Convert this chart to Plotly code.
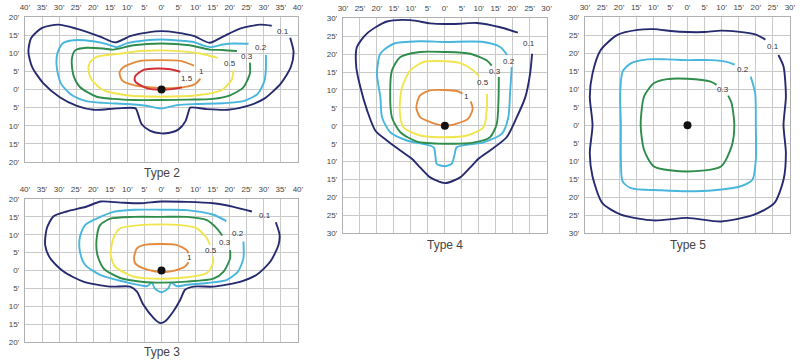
import plotly.graph_objects as go

# ---------------- tick values ----------------
TICKS_40 = list(range(-40, 41, 5))
TICKS_30 = list(range(-30, 31, 5))
TICKS_20 = list(range(-20, 21, 5))

def tick_text(vals):
    return [f"{abs(v)}\u2019" for v in vals]

# ---------------- contour levels ----------------
LEVEL_NAMES = ["0.1", "0.2", "0.3", "0.5", "1", "1.5"]
LEVEL_COLORS = {"0.1": "#262a6e", "0.2": "#48b6dc", "0.3": "#2f8d4c",
                "0.5": "#f0e54c", "1": "#e38a3f", "1.5": "#d22f34"}

# ---------------- Type 2 ----------------
T2_01_X = [37.7, 38.7, 37.9, 35.0, 30.0, 25.0, 19.5, 13.0, 8.4, 7.9, 7.0, 5.0, 2.0, 0.0, -3.3, -5.8, -6.8, -7.6,
           -13.0, -19.9, -24.8, -29.7, -34.6, -37.9, -39.0, -38.2, -35.0, -30.2, -25.0, -18.0, -13.6, -9.0, -4.3,
           0.0, 4.5, 9.4, 14.1, 18.0, 23.0, 28.9, 32.3]
T2_01_Y = [14.3, 10.4, 6.2, 1.7, -2.6, -4.6, -5.6, -5.4, -5.0, -6.2, -8.8, -11.0, -12.0, -12.1, -11.4, -9.6, -7.0, -5.2,
           -5.2, -5.6, -4.5, -2.2, 1.7, 6.2, 10.4, 14.2, 17.0, 17.9, 16.8, 14.6, 13.0, 14.8, 15.7,
           16.1, 15.7, 14.8, 12.9, 14.6, 16.8, 17.9, 17.6]
T2_02_X = [30.6, 30.6, 30.2, 28.2, 24.0, 18.0, 10.0, 4.5, 0.0, -4.5, -10.0, -17.0, -22.0, -26.3, -29.5, -30.7,
           -30.5, -29.0, -25.8, -20.0, -16.0, -13.1, -10.0, -5.0, 0.0, 5.0, 9.4, 12.0, 14.3, 18.0, 21.1, 25.5]
T2_02_Y = [9.5, 6.0, 2.5, -1.2, -3.2, -3.8, -4.0, -4.3, -5.2, -4.5, -4.0, -3.7, -3.2, -1.5, 1.7, 6.2,
           10.0, 12.7, 13.6, 13.3, 12.5, 11.7, 12.8, 13.5, 13.8, 13.5, 13.1, 12.2, 11.7, 12.4, 12.7, 12.6]
T2_03_X = [25.9, 25.9, 24.0, 20.1, 15.0, 8.0, 0.0, -8.0, -14.0, -19.0, -23.9, -25.8, -26.3, -25.3, -22.0, -17.0,
           -14.1, -8.2, 0.0, 8.2, 14.1, 18.0, 22.1]
T2_03_Y = [7.4, 4.4, 0.6, -1.6, -2.6, -2.8, -2.9, -2.9, -2.6, -2.0, 0.7, 3.9, 8.1, 10.8, 11.5, 11.3,
           11.0, 12.2, 12.7, 12.2, 11.0, 10.9, 10.6]
T2_05_X = [21.1, 20.5, 17.6, 10.4, 0.0, -10.2, -17.0, -20.4, -21.4, -20.9, -19.0, -12.1, -6.3, 0.0, 8.4, 13.0, 16.5]
T2_05_Y = [5.3, 2.6, -0.2, -1.6, -2.0, -1.6, -0.2, 2.6, 5.3, 7.6, 9.0, 9.9, 10.6, 10.8, 10.3, 9.6, 8.7]
T2_10_X = [11.4, 10.0, 7.4, 0.0, -8.2, -11.6, -12.3, -11.1, -6.3, 0.0, 5.5, 9.5]
T2_10_Y = [3.0, 1.6, 0.8, 0.4, 1.2, 2.6, 4.7, 6.2, 7.9, 8.1, 7.9, 6.6]
T2_15_X = [6.0, 3.0, 0.0, -4.2, -7.6, -7.8, -5.3, -1.4, 2.5, 5.5]
T2_15_Y = [0.6, 0.1, -0.1, 0.3, 2.1, 3.5, 5.4, 5.8, 5.6, 4.9]
T2_LABEL_X = [35.5, 29.2, 25.0, 20.1, 11.8, 7.4]
T2_LABEL_Y = [15.9, 11.7, 9.2, 7.3, 4.9, 3.0]

# ---------------- Type 3 ----------------
T3_01_X = [33.5, 34.6, 34.3, 31.9, 27.9, 23.0, 15.2, 9.4, 6.9, 5.5, 3.5, 1.1, -0.4, -2.3, -5.3, -7.2, -9.2, -15.0,
           -22.9, -28.7, -32.6, -34.1, -33.6, -31.7, -27.8, -21.9, -17.8, -12.0, -6.3, 0.0, 7.4, 15.2, 21.1, 26.5]
T3_01_Y = [13.5, 10.0, 7.2, 2.5, -1.2, -3.2, -4.5, -4.5, -5.4, -8.2, -11.4, -14.2, -14.7, -13.3, -9.6, -5.9, -4.5, -4.5,
           -3.1, -0.3, 3.4, 7.2, 11.8, 15.1, 16.5, 17.9, 19.3, 19.0, 18.8, 19.3, 19.2, 18.8, 17.8, 16.5]
T3_02_X = [24.0, 24.0, 22.4, 19.2, 13.3, 7.4, 4.5, 2.8, 2.0, 0.0, -2.0, -2.8, -4.3, -6.3, -10.2, -18.0, -22.4,
           -23.9, -23.9, -22.4, -19.0, -14.1, -8.2, 0.0, 7.4, 15.2, 19.0]
T3_02_Y = [8.1, 3.4, -0.3, -2.6, -3.5, -4.0, -4.4, -3.4, -5.0, -6.1, -5.0, -3.4, -4.4, -4.1, -3.3, -1.2, 1.6,
           5.3, 9.4, 12.7, 14.5, 16.4, 17.0, 17.0, 16.9, 15.6, 13.8]
T3_03_X = [20.1, 20.1, 18.2, 15.2, 7.4, 0.0, -5.3, -12.1, -17.0, -18.8, -19.0, -18.0, -15.0, -8.2, 0.0, 7.4,
           13.3, 16.2, 17.8]
T3_03_Y = [5.7, 3.4, -0.3, -2.3, -3.1, -3.4, -3.2, -2.1, 0.6, 4.4, 9.0, 12.7, 14.5, 15.0, 15.0, 15.0,
           14.1, 11.8, 9.8]
T3_05_X = [15.1, 15.1, 13.3, 7.4, 0.0, -8.2, -13.6, -14.9, -14.1, -12.1, -6.3, 0.0, 5.5, 10.4, 13.3, 14.2]
T3_05_Y = [3.9, 2.0, -0.7, -1.9, -2.3, -1.7, 1.1, 4.4, 9.0, 11.8, 12.7, 12.9, 12.7, 11.8, 9.0, 7.2]
T3_10_X = [7.9, 6.9, 3.5, 0.0, -5.3, -7.7, -8.0, -7.2, -5.3, 0.0, 4.5, 7.4, 7.9]
T3_10_Y = [2.3, 1.1, -0.1, -0.5, 0.6, 2.0, 3.9, 6.2, 7.1, 7.4, 7.1, 5.7, 4.8]
T3_LABEL_X = [30.4, 22.3, 18.7, 14.5, 8.1]
T3_LABEL_Y = [15.3, 10.4, 7.9, 5.6, 3.6]

# ---------------- Type 4 ----------------
T4_01_X = [25.7, 25.1, 23.7, 21.2, 18.2, 13.3, 9.9, 7.5, 4.5, 0.0, -4.3, -7.3, -9.7, -13.1, -17.1, -20.5, -22.9,
           -24.9, -26.1, -25.9, -22.9, -17.1, -10.2, -4.3, 0.0, 4.5, 9.4, 16.3, 21.5]
T4_01_Y = [20.1, 14.5, 8.0, 2.4, -3.2, -6.9, -9.2, -11.6, -14.4, -16.0, -14.4, -11.6, -9.2, -6.9, -4.1, -1.3, 4.3,
           10.8, 16.4, 22.0, 25.8, 29.1, 29.5, 28.6, 28.4, 28.5, 28.7, 27.5, 26.0]
T4_02_X = [19.7, 19.2, 18.7, 16.8, 11.4, 3.5, 2.8, 2.0, 0.0, -2.4, -2.8, -3.3, -11.2, -16.1, -18.5, -19.0, -20.0,
           -19.0, -15.1, -7.3, 0.0, 11.4, 16.3, 18.3]
T4_02_Y = [16.4, 8.9, 2.4, -2.2, -4.6, -6.0, -8.3, -10.6, -11.3, -10.6, -8.3, -6.0, -4.1, -1.8, 2.4, 8.0, 14.5,
           20.1, 22.9, 23.6, 23.4, 23.4, 22.0, 19.8]
T4_03_X = [15.9, 15.8, 15.3, 13.3, 8.4, 0.0, -8.2, -13.1, -15.6, -16.1, -15.6, -13.1, -7.3, 0.0, 7.5, 12.4, 13.8]
T4_03_Y = [13.6, 7.1, 0.6, -3.2, -4.7, -5.0, -4.4, -1.8, 2.4, 9.9, 15.4, 19.2, 20.6, 20.6, 20.1, 18.2, 16.8]
T4_05_X = [12.4, 12.4, 11.4, 6.5, 0.0, -7.3, -12.2, -13.3, -12.6, -10.2, -6.3, 0.0, 4.5, 8.4, 10.0]
T4_05_Y = [8.9, 5.2, -0.4, -2.7, -3.2, -2.7, -0.4, 4.3, 10.8, 15.4, 17.8, 18.0, 17.5, 15.4, 13.8]
T4_10_X = [7.6, 8.2, 6.9, 3.5, 0.0, -3.3, -7.3, -8.4, -7.3, -4.3, 0.0, 3.5, 5.2]
T4_10_Y = [6.8, 4.7, 2.0, 0.6, 0.0, 0.7, 2.4, 5.2, 8.5, 9.9, 10.0, 9.7, 9.0]
T4_LABEL_X = [24.9, 18.8, 14.9, 11.2, 6.5]
T4_LABEL_Y = [23.1, 18.0, 15.2, 12.2, 8.2]

# ---------------- Type 5 ----------------
T5_01_X = [26.6, 28.1, 28.8, 28.1, 28.8, 28.1, 25.4, 19.5, 9.8, 0.0, -9.8, -19.5, -24.9, -27.8, -28.6, -27.8, -28.6,
           -27.8, -25.4, -20.5, -14.6, -9.8, -4.9, 0.0, 4.9, 9.8, 14.6, 20.0, 22.8]
T5_01_Y = [19.5, 16.3, 8.0, 0.0, -7.8, -15.2, -21.7, -24.9, -26.8, -25.8, -26.5, -24.9, -21.7, -14.3, -7.8, 0.0, 8.0,
           14.4, 20.9, 25.1, 26.5, 26.7, 26.2, 25.9, 25.9, 26.3, 26.0, 25.2, 23.8]
T5_02_X = [18.5, 19.8, 20.0, 20.0, 19.0, 15.6, 7.8, 0.0, -7.8, -16.6, -19.0, -19.5, -19.5, -19.7, -19.0, -16.6,
           -11.7, -5.9, 0.0, 6.8, 11.5, 13.8]
T5_02_Y = [13.5, 8.9, 0.0, -9.6, -15.2, -17.0, -18.1, -18.4, -18.1, -17.5, -15.6, -9.6, 0.0, 8.9, 14.9, 17.2,
           18.3, 18.3, 18.1, 18.1, 17.6, 16.8]
T5_03_X = [11.9, 12.9, 13.7, 12.9, 9.8, 0.0, -9.8, -12.7, -13.7, -12.7, -9.8, -5.9, 0.0, 6.8, 8.5]
T5_03_Y = [8.2, 6.1, 0.0, -5.9, -11.5, -12.9, -11.5, -6.9, 0.0, 8.0, 11.7, 12.8, 12.9, 12.1, 11.2]
T5_LABEL_X = [24.9, 16.1, 10.4]
T5_LABEL_Y = [22.0, 15.6, 10.0]

PANEL_TITLES = ["Type 2", "Type 3", "Type 4", "Type 5"]

# page layout (pixel positions in the 803x360 page)
W, H = 803, 360

def fx(px):
    return px / W

def fy(py):
    return 1 - py / H

panels = [
    dict(title=PANEL_TITLES[0], xt=TICKS_40, yt=TICKS_20,
         box=(25, 298, 17, 162), title_y=173,
         curves=[(T2_01_X, T2_01_Y), (T2_02_X, T2_02_Y), (T2_03_X, T2_03_Y),
                 (T2_05_X, T2_05_Y), (T2_10_X, T2_10_Y), (T2_15_X, T2_15_Y)],
         lx=T2_LABEL_X, ly=T2_LABEL_Y),
    dict(title=PANEL_TITLES[1], xt=TICKS_40, yt=TICKS_20,
         box=(25, 298, 199, 342), title_y=352,
         curves=[(T3_01_X, T3_01_Y), (T3_02_X, T3_02_Y), (T3_03_X, T3_03_Y),
                 (T3_05_X, T3_05_Y), (T3_10_X, T3_10_Y)],
         lx=T3_LABEL_X, ly=T3_LABEL_Y),
    dict(title=PANEL_TITLES[2], xt=TICKS_30, yt=TICKS_30,
         box=(343, 546.7, 18.3, 233.3), title_y=245,
         curves=[(T4_01_X, T4_01_Y), (T4_02_X, T4_02_Y), (T4_03_X, T4_03_Y),
                 (T4_05_X, T4_05_Y), (T4_10_X, T4_10_Y)],
         lx=T4_LABEL_X, ly=T4_LABEL_Y),
    dict(title=PANEL_TITLES[3], xt=TICKS_30, yt=TICKS_30,
         box=(585, 790, 17.3, 233), title_y=245,
         curves=[(T5_01_X, T5_01_Y), (T5_02_X, T5_02_Y), (T5_03_X, T5_03_Y)],
         lx=T5_LABEL_X, ly=T5_LABEL_Y),
]

FONT = "Liberation Sans, Arial, sans-serif"
fig = go.Figure()
annotations = []
layout = dict(width=W, height=H, margin=dict(l=0, r=0, t=0, b=0, pad=0, autoexpand=False),
              paper_bgcolor="white", plot_bgcolor="white", showlegend=False, hovermode=False,
              font=dict(family=FONT, color="#444"))

for i, p in enumerate(panels):
    n = "" if i == 0 else str(i + 1)
    xa, ya = "x" + n, "y" + n
    left, right, top, bottom = p["box"]
    dom_x = [fx(left), fx(right)]
    dom_y = [fy(bottom), fy(top)]
    for j, (cx, cy) in enumerate(p["curves"]):
        lvl = LEVEL_NAMES[j]
        fig.add_trace(go.Scatter(x=cx, y=cy, mode="lines", xaxis=xa, yaxis=ya,
                                 line=dict(color=LEVEL_COLORS[lvl], width=1.9, shape="spline", smoothing=0.7),
                                 hoverinfo="skip"))
        annotations.append(dict(x=p["lx"][j], y=p["ly"][j], xref=xa, yref=ya, text=lvl,
                                showarrow=False, font=dict(size=8, color="#333", family=FONT)))
    fig.add_trace(go.Scatter(x=[0], y=[0], mode="markers", xaxis=xa, yaxis=ya,
                             marker=dict(color="#111", size=8, symbol="circle"), hoverinfo="skip"))
    xr = [p["xt"][0], p["xt"][-1]]
    yr = [p["yt"][0], p["yt"][-1]]
    layout["xaxis" + n] = dict(domain=dom_x, range=xr, anchor=ya, side="top", automargin=False,
                               tickvals=p["xt"], ticktext=tick_text(p["xt"]), ticks="",
                               tickfont=dict(size=8, color="#444"), ticklabelstandoff=3,
                               showgrid=True, gridcolor="#c9c9c9", gridwidth=1,
                               showline=True, linecolor="#b0b0b0", linewidth=1, mirror=True,
                               zeroline=False, fixedrange=True)
    layout["yaxis" + n] = dict(domain=dom_y, range=yr, anchor=xa, automargin=False,
                               tickvals=p["yt"], ticktext=tick_text(p["yt"]), ticks="",
                               tickfont=dict(size=8, color="#444"), ticklabelstandoff=3,
                               showgrid=True, gridcolor="#c9c9c9", gridwidth=1,
                               showline=True, linecolor="#b0b0b0", linewidth=1, mirror=True,
                               zeroline=False, fixedrange=True)
    annotations.append(dict(x=(dom_x[0] + dom_x[1]) / 2, y=fy(p["title_y"]), xref="paper", yref="paper",
                            text=p["title"], showarrow=False, xanchor="center", yanchor="middle",
                            font=dict(size=12, color="#444", family=FONT)))

layout["annotations"] = annotations
fig.update_layout(**layout)
# remove the browser's default 8px page margin so the figure sits at the page corner
fig.write_html("out.html", config={"displayModeBar": False},
               post_script="document.body.style.margin='0px';")
